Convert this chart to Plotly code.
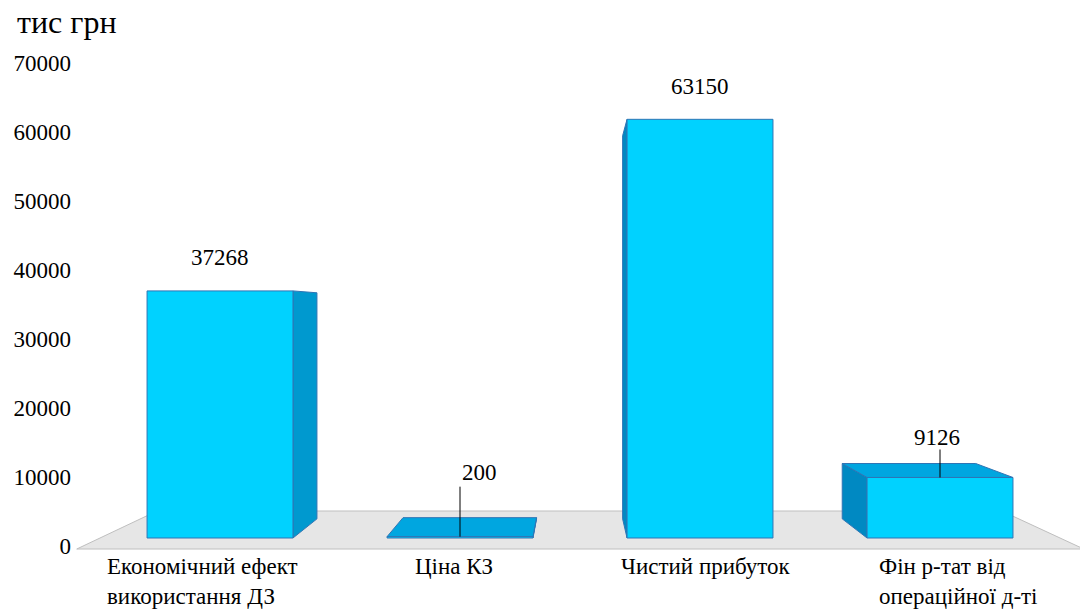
import plotly.graph_objects as go

# ---------------- data ----------------
categories = ["Економічний ефект<br>використання ДЗ", "Ціна КЗ",
              "Чистий прибуток", "Фін р-тат від<br>операційної д-ті"]
values = [37268, 200, 63150, 9126]
tick_values = [0, 10000, 20000, 30000, 40000, 50000, 60000, 70000]
tick_text = ["0", "10000", "20000", "30000", "40000", "50000", "60000", "70000"]
unit_label = "тис грн"

# ---------------- style / geometry ----------------
FONT = "Liberation Serif, serif"
FRONT = "#00D2FF"
SIDE_R = "#0099CF"
SIDE_L = "#0089C2"
TOP = "#00A6E0"
EDGE = "#2F75B5"
FLOOR = "#E6E6E6"
FLOOR_EDGE = "#BFBFBF"

BAR_W = 0.608
VP = (1.479, 33937.0)        # vanishing point (x units, y2 units)
F_BACK = 0.915               # depth factor of bar back faces
F_FLOOR_FRONT = 1.049
F_FLOOR_BACK = 0.88

# label offsets (pixels): (xshift, yshift)
label_offsets = [(0, 33), (19, 64), (0, 33), (-3, 40)]
leader_len = [0, 50, 0, 28]


def proj(x, y, f):
    return (VP[0] + f * (x - VP[0]), VP[1] + f * (y - VP[1]))


def path(pts):
    return "M " + " L ".join(f"{px:.5f},{py:.3f}" for px, py in pts) + " Z"


xs = list(range(len(values)))
shapes = []

# floor
fl, fr = -0.5, len(values) - 0.5
floor_pts = [proj(fl, 0, F_FLOOR_FRONT), proj(fr, 0, F_FLOOR_FRONT),
             proj(fr, 0, F_FLOOR_BACK), proj(fl, 0, F_FLOOR_BACK)]
shapes.append(dict(type="path", xref="x", yref="y2", path=path(floor_pts),
                   fillcolor=FLOOR, line=dict(color=FLOOR_EDGE, width=1), layer="below"))

# side and top faces
for i, v in zip(xs, values):
    xl, xr = i - BAR_W / 2, i + BAR_W / 2
    if xr < VP[0]:
        ex, col = xr, SIDE_R
    elif xl > VP[0]:
        ex, col = xl, SIDE_L
    else:
        ex = None
    if ex is not None:
        pts = [(ex, 0), (ex, v), proj(ex, v, F_BACK), proj(ex, 0, F_BACK)]
        shapes.append(dict(type="path", xref="x", yref="y2", path=path(pts),
                           fillcolor=col, line=dict(color=EDGE, width=1), layer="below"))
    if v < VP[1]:
        pts = [(xl, v), (xr, v), proj(xr, v, F_BACK), proj(xl, v, F_BACK)]
        shapes.append(dict(type="path", xref="x", yref="y2", path=path(pts),
                           fillcolor=TOP, line=dict(color=EDGE, width=1), layer="below"))

# leader lines
for i, v, ln in zip(xs, values, leader_len):
    if ln:
        shapes.append(dict(type="line", xref="x", yref="y2", ysizemode="pixel",
                           yanchor=v, x0=i, x1=i, y0=0, y1=ln,
                           line=dict(color="black", width=1), layer="above"))

annotations = []
# data labels
for i, v, (dx, dy) in zip(xs, values, label_offsets):
    annotations.append(dict(x=i, y=v, xref="x", yref="y2", text=str(v), showarrow=False,
                            xanchor="center", yanchor="middle", xshift=dx, yshift=dy,
                            font=dict(family=FONT, size=23, color="black")))
# category labels (projected onto floor front)
for i, c in zip(xs, categories):
    lx = VP[0] + F_FLOOR_FRONT * (i - VP[0])
    annotations.append(dict(x=lx, y=0, xref="x", yref="paper", text=c, showarrow=False,
                            xanchor="center", yanchor="top", align="left", yshift=4,
                            font=dict(family=FONT, size=23, color="black")))
# unit label
annotations.append(dict(x=0, y=1, xref="paper", yref="paper", text=unit_label, showarrow=False,
                        xanchor="left", yanchor="middle", xshift=-57, yshift=41,
                        font=dict(family=FONT, size=32, color="black")))

fig = go.Figure()
fig.add_trace(go.Bar(x=xs, y=values, width=BAR_W, yaxis="y2",
                     marker=dict(color=FRONT, line=dict(color=EDGE, width=1)),
                     hoverinfo="skip"))
# invisible trace to hold the tick axis
fig.add_trace(go.Scatter(x=[0], y=[0], mode="markers", marker=dict(opacity=0),
                         hoverinfo="skip", showlegend=False))

fig.update_layout(
    width=1080, height=611,
    margin=dict(l=72, r=0, t=63, b=55),
    paper_bgcolor="white", plot_bgcolor="white",
    showlegend=False,
    font=dict(family=FONT, color="black"),
    xaxis=dict(range=[-0.6167, 3.5833], showgrid=False, zeroline=False,
               showticklabels=False, showline=False, fixedrange=True),
    yaxis=dict(range=[-1449, 70000], tickvals=tick_values, ticktext=tick_text,
               showgrid=False, zeroline=False, showline=False,
               tickfont=dict(family=FONT, size=23, color="black"), ticks=""),
    yaxis2=dict(range=[-2715, 71644], overlaying="y", visible=False),
    shapes=shapes, annotations=annotations,
)

fig.write_html("out.html")
